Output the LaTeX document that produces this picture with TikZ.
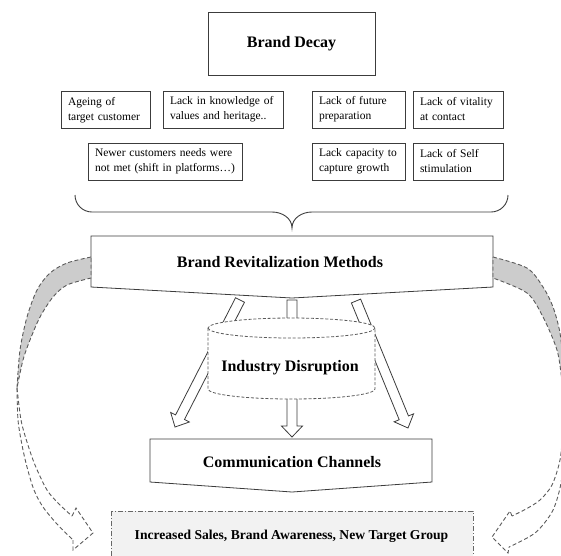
\documentclass[tikz,border=0pt]{standalone}
\usepackage{fontspec}
\setmainfont{Liberation Serif}
\usetikzlibrary{calc}
\definecolor{lc}{HTML}{3C3C3C}
\definecolor{dc}{HTML}{5A5A5A}
\newcommand\blkarrow[2]{%
  \path ($(#2)!11pt!(#1)$) coordinate (bac);
  \draw[blk] ($(#1)!5pt!90:(#2)$) -- ($(bac)!5pt!90:(#2)$) -- ($(bac)!10.5pt!90:(#2)$) -- (#2)
    -- ($(bac)!10.5pt!-90:(#2)$) -- ($(bac)!5pt!-90:(#2)$) -- ($(#1)!5pt!-90:(#2)$) -- cycle;}
\begin{document}
\begin{tikzpicture}[x=1pt,y=-1pt,
  sbox/.style={draw=lc, line width=0.8pt, align=left, inner xsep=7pt, inner ysep=0pt,
    minimum height=37pt, font=\fontsize{11.5}{15}\selectfont},
  big/.style={font=\fontsize{16}{19}\selectfont\bfseries},
  shp/.style={draw=lc, line width=0.8pt, fill=white, line join=miter},
  blk/.style={draw=lc, line width=0.8pt, fill=white},
  band/.style={draw=dc, line width=0.9pt, dash pattern=on 4pt off 2.5pt},
  cyl/.style={draw=dc, line width=0.8pt, dash pattern=on 3pt off 1.8pt},
]
\useasboundingbox (0,0) rectangle (561,555);
\clip (0,0) rectangle (561,555);

% Brand decay
\node[draw=lc, line width=0.8pt, minimum width=167pt, minimum height=63pt, big] (decay) at (291.5,43.5) {Brand Decay};

% causes
\node[sbox, text width=75pt] (ageing) at (105.5,110) {Ageing of\\target customer};
\node[sbox, text width=106pt] (knowledge) at (223,109.5) {Lack in knowledge of\\values and heritage..};
\node[sbox, text width=79pt] (future) at (358.5,109.5) {Lack of future\\preparation};
\node[sbox, text width=76pt] (vitality) at (458,109.5) {Lack of vitality\\at contact};
\node[sbox, text width=140pt] (newer) at (165,161.5) {Newer customers needs were\\not met (shift in platforms\dots)};
\node[sbox, text width=79pt] (capacity) at (358.5,161.5) {Lack capacity to\\capture growth};
\node[sbox, text width=76pt] (self) at (458,161.5) {Lack of Self\\stimulation};

% brace
\draw[lc, line width=0.9pt] (75,195) to[out=-90,in=180] (92,212) -- (272,212)
  to[out=0,in=90] (292,228) to[out=90,in=180] (312,212) -- (491,212) to[out=0,in=-90] (508,195);

% Brand revitalization
\draw[shp] (91,236) -- (493,236) -- (493,287) -- (292,298) -- (91,287) -- cycle;
\node[big] (rev) at (280,262) {Brand Revitalization Methods};

% small block arrows
\coordinate (la0) at (240,300); \coordinate (la1) at (175,427);
\coordinate (ma0) at (292,300); \coordinate (ma1) at (292,437);
\coordinate (ra0) at (356,301); \coordinate (ra1) at (408,428);
\blkarrow{la0}{la1}
\blkarrow{ma0}{ma1}
\blkarrow{ra0}{ra1}

% cylinder
\filldraw[cyl, fill=white] (208,328) -- (208,389) arc[start angle=180,end angle=360,x radius=83.5pt,y radius=10pt]
  -- (375,328) arc[start angle=0,end angle=180,x radius=83.5pt,y radius=10pt] -- cycle;
\draw[cyl] (208,328) arc[start angle=180,end angle=360,x radius=83.5pt,y radius=10pt];
\node[big] (disrupt) at (290,368) {Industry Disruption};

% Communication channels
\draw[shp] (150,439) -- (432,439) -- (432,482) -- (292,492) -- (150,482) -- cycle;
\node[big] (comm) at (292,462) {Communication Channels};

% result
\draw[draw=gray!80!black, fill=gray!10, line width=0.8pt, dash pattern=on 5pt off 2pt on 1pt off 2pt] (111,511) rectangle (473,565);
\node[font=\fontsize{13.6}{16}\selectfont\bfseries] (res) at (291.5,536) {Increased Sales, Brand Awareness, New Target Group};

% left curved arrow
\filldraw[band, fill=gray!40] plot[smooth] coordinates {(91,257) (67,263) (50,273) (37,290) (27,317) (20,350) (17,388)}
  -- plot[smooth] coordinates {(17,388) (23,360) (30,340) (40,317) (53,297) (67,285) (91,278)} -- cycle;
\draw[band] plot[smooth] coordinates {(17,388) (18,420) (22,445) (27,467) (34,490) (43,507) (57,524) (73,540)};
\draw[band] plot[smooth] coordinates {(17,388) (21,420) (27,442) (35,465) (47,490) (59,504) (72,516)};
\draw[band] (72,516) -- (76,508) -- (93,533) -- (73,550) -- (73,540);

% right curved arrow
\filldraw[band, fill=gray!40] plot[smooth] coordinates {(493,257) (527,268) (543,287) (553,307) (560,333) (564,370) (566,400)}
  -- plot[smooth] coordinates {(566,400) (562,380) (557,350) (543,317) (527,293) (493,278)} -- cycle;
\draw[band] plot[smooth] coordinates {(566,400) (566,430) (564,460) (560,488) (552,512) (535,533) (509,547)};
\draw[band] plot[smooth] coordinates {(566,400) (563,430) (560,460) (552,485) (540,500) (526,509) (512,516)};
\draw[band] (512,516) -- (510,511) -- (492,537) -- (508,553) -- (509,547);
\end{tikzpicture}
\end{document}
